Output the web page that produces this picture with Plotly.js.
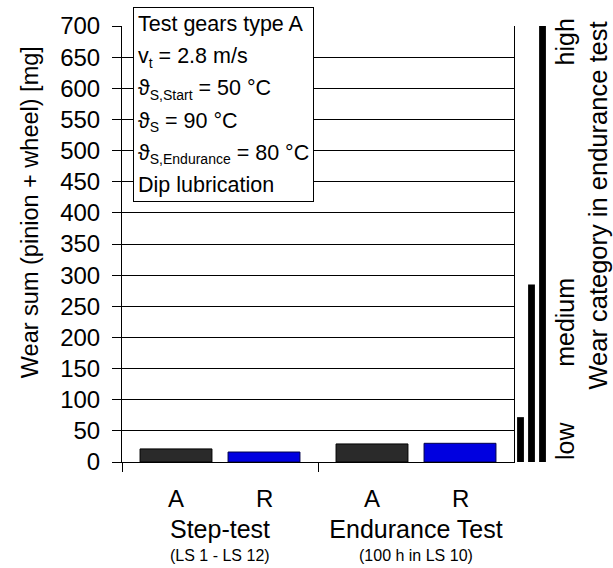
<!DOCTYPE html>
<html>
<head>
<meta charset="utf-8">
<script src="https://cdn.plot.ly/plotly-3.0.1.min.js"></script>
<style>html,body{margin:0;padding:0;background:#fff;}#chart{width:613px;height:568px;}</style>
</head>
<body>
<div id="chart"></div>
<script>
// ---- data ----
const groups = ['Step-test', 'Endurance Test'];
const groupSub = ['(LS 1 - LS 12)', '(100 h in LS 10)'];
const seriesNames = ['A', 'R'];
const valuesA = [21, 29];
const valuesR = [16, 30];
const wearCats = ['low', 'medium', 'high'];
const wearLimits = [72, 285, 700];
const yTickStep = 50;
const yMax = 700;

// ---- layout constants ----
const FONT = '"Liberation Sans", Arial, sans-serif';
const BARGAP = 0.102;
const BARGROUPGAP = 0.183;
const MAIN_END = 0.9159;
const off = (1 - BARGAP) / 4;

const traces = [
  {type: 'bar', name: seriesNames[0], x: groups, y: valuesA, xaxis: 'x', yaxis: 'y',
   marker: {color: '#2a2a2a', line: {color: '#000', width: 1}}},
  {type: 'bar', name: seriesNames[1], x: groups, y: valuesR, xaxis: 'x', yaxis: 'y',
   marker: {color: '#0000e0', line: {color: '#00004a', width: 1}}},
  {type: 'bar', x: wearCats, y: wearLimits, xaxis: 'x2', yaxis: 'y3', width: 0.62,
   marker: {color: '#000', line: {width: 0}}}
];

const annotations = [];
groups.forEach((g, i) => {
  seriesNames.forEach((s, j) => {
    annotations.push({text: s, xref: 'x', yref: 'paper', x: i + (j === 0 ? -off : off), y: 0,
      yshift: -36, yanchor: 'middle', showarrow: false, font: {size: 24, color: '#000', family: FONT}});
  });
  annotations.push({text: groupSub[i], xref: 'x', yref: 'paper', x: i, y: 0,
    yshift: -93, yanchor: 'middle', showarrow: false, font: {size: 16, color: '#000', family: FONT}});
});

const S = t => '<span style="font-size:21.5px">' + t + '</span>';
const SUB = t => '<sub><span style="font-size:14px">' + t + '</span></sub>';
annotations.push({
  text: [S('Test gears type A'), S('v' + SUB('t') + ' = 2.8 m/s'), S('ϑ' + SUB('S,Start') + ' = 50 °C'),
         S('ϑ' + SUB('S') + ' = 90 °C'), S('ϑ' + SUB('S,Endurance') + ' = 80 °C'), S('Dip lubrication')].join('<br>'),
  xref: 'paper', yref: 'paper', x: 0.0257, y: 1.0436, xanchor: 'left', yanchor: 'top',
  align: 'left', showarrow: false, bgcolor: '#fff', bordercolor: '#000', borderwidth: 1, borderpad: 4,
  font: {size: 24.8, color: '#000', family: FONT}
});

// wear category labels
const RF = {size: 25, color: '#000', family: FONT};
annotations.push({text: wearCats[0], xref: 'paper', yref: 'y3', x: 1.035, y: 0, xanchor: 'center', yanchor: 'bottom',
  textangle: -90, showarrow: false, font: RF});
annotations.push({text: wearCats[1], xref: 'paper', yref: 'y3', x: 1.035, y: 225, xanchor: 'center', yanchor: 'middle',
  textangle: -90, showarrow: false, font: RF});
annotations.push({text: wearCats[2], xref: 'paper', yref: 'y3', x: 1.035, y: yMax, xanchor: 'center', yanchor: 'top',
  textangle: -90, yshift: 10, showarrow: false, font: RF});
annotations.push({text: 'Wear category in endurance test', xref: 'paper', yref: 'paper', x: 1.112, y: 0.588,
  xanchor: 'center', yanchor: 'middle', textangle: -90, showarrow: false, font: {size: 25.5, color: '#000', family: FONT}});
annotations.push({text: 'Wear sum (pinion + wheel) [mg]', xref: 'paper', yref: 'paper', x: -0.215, y: 0.573,
  xanchor: 'center', yanchor: 'middle', textangle: -90, showarrow: false, font: {size: 23.5, color: '#000', family: FONT}});

const layout = {
  width: 613, height: 568,
  margin: {l: 122, r: 63, t: 26, b: 106},
  paper_bgcolor: '#fff', plot_bgcolor: '#fff',
  showlegend: false,
  barmode: 'group', bargap: BARGAP, bargroupgap: BARGROUPGAP,
  font: {family: FONT, color: '#000', size: 23},
  xaxis: {domain: [0, MAIN_END], anchor: 'y', type: 'category', showgrid: false, zeroline: false,
    showline: true, linecolor: '#000', linewidth: 1, ticks: 'outside', ticklen: 9, tickcolor: '#000',
    tickson: 'boundaries', ticklabelstandoff: 45, tickfont: {size: 25, family: FONT, color: '#000'}},
  yaxis: {range: [0, yMax], dtick: yTickStep, tick0: 0, anchor: 'x', showgrid: true, gridcolor: '#000', gridwidth: 1,
    zeroline: false, showline: true, mirror: true, linecolor: '#000', linewidth: 1,
    ticks: 'outside', ticklen: 9, tickcolor: '#000', ticklabelstandoff: 7,
    tickfont: {size: 24, family: FONT, color: '#000'}},
  xaxis2: {domain: [MAIN_END, 1], anchor: 'y3', type: 'category', range: [-0.59, 2.68], visible: false},
  yaxis3: {domain: [0, 1], anchor: 'x2', range: [0, yMax], visible: false},
  annotations: annotations
};

Plotly.newPlot('chart', traces, layout, {displayModeBar: false, staticPlot: true});
</script>
</body>
</html>
